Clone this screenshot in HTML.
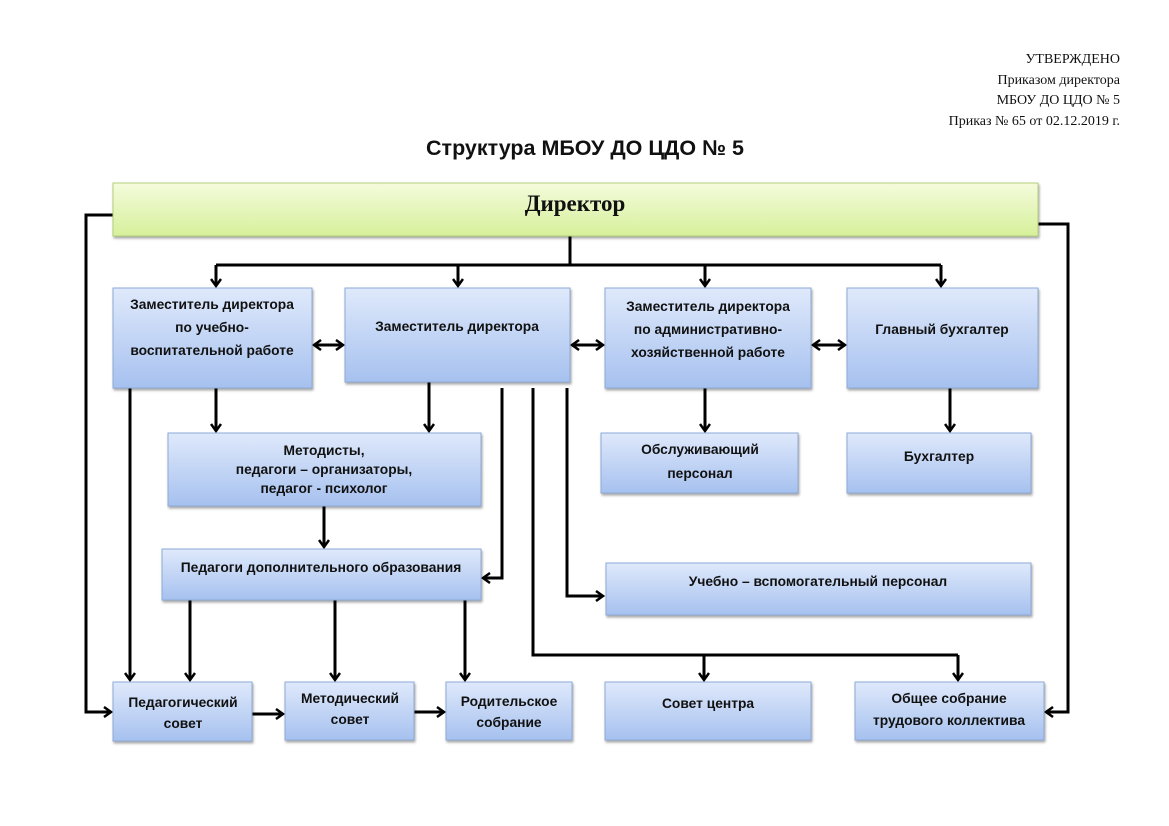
<!DOCTYPE html>
<html><head><meta charset="utf-8"><style>
body{margin:0;background:#fff;width:1169px;height:826px;overflow:hidden;}
svg{display:block}
.t{font-family:"Liberation Sans",sans-serif;font-weight:bold;font-size:13.8px;fill:#111;text-anchor:middle}
.s{font-family:"Liberation Serif",serif;font-size:14px;fill:#111;text-anchor:end}
</style></head><body>
<svg width="1169" height="826" viewBox="0 0 1169 826">
<defs>
<linearGradient id="g" x1="0" y1="0" x2="0" y2="1"><stop offset="0" stop-color="#dfe9fb"/><stop offset="1" stop-color="#a6c1ef"/></linearGradient>
<linearGradient id="gg" x1="0" y1="0" x2="0" y2="1"><stop offset="0" stop-color="#f4fbdc"/><stop offset="1" stop-color="#d6f09a"/></linearGradient>
<marker id="a" markerWidth="12" markerHeight="12" refX="10" refY="6" orient="auto" markerUnits="userSpaceOnUse"><polyline points="3,1 10,6 3,11" fill="none" stroke="#000" stroke-width="2.5"/></marker>
<marker id="b" markerWidth="12" markerHeight="12" refX="2" refY="6" orient="auto" markerUnits="userSpaceOnUse"><polyline points="9,1 2,6 9,11" fill="none" stroke="#000" stroke-width="2.5"/></marker>
<filter id="sh"><feDropShadow dx="1" dy="2" stdDeviation="1.2" flood-opacity="0.35"/></filter>
</defs>
<text class="s" x="1120" y="63">УТВЕРЖДЕНО</text>
<text class="s" x="1120" y="84">Приказом директора</text>
<text class="s" x="1120" y="104">МБОУ ДО ЦДО № 5</text>
<text class="s" x="1120" y="125">Приказ № 65 от 02.12.2019 г.</text>
<text x="585" y="155" font-family="Liberation Sans,sans-serif" font-weight="bold" font-size="21.5" text-anchor="middle" fill="#111">Структура МБОУ ДО ЦДО № 5</text>

<g fill="none" stroke="#000" stroke-width="3">
<polyline points="113,215 86,215 86,712 111,712" marker-end="url(#a)"/>
<polyline points="1038,224 1068,224 1068,712 1046,712" marker-end="url(#a)"/>
<line x1="570" y1="236" x2="570" y2="265"/>
<line x1="216" y1="265" x2="941" y2="265"/>
<line x1="216" y1="265" x2="216" y2="286" marker-end="url(#a)"/>
<line x1="458" y1="265" x2="458" y2="286" marker-end="url(#a)"/>
<line x1="705" y1="265" x2="705" y2="286" marker-end="url(#a)"/>
<line x1="941" y1="265" x2="941" y2="286" marker-end="url(#a)"/>
<line x1="314" y1="345" x2="343" y2="345" marker-start="url(#b)" marker-end="url(#a)"/>
<line x1="572" y1="345" x2="603" y2="345" marker-start="url(#b)" marker-end="url(#a)"/>
<line x1="813" y1="345" x2="845" y2="345" marker-start="url(#b)" marker-end="url(#a)"/>
<line x1="216" y1="388" x2="216" y2="431" marker-end="url(#a)"/>
<line x1="429" y1="382" x2="429" y2="431" marker-end="url(#a)"/>
<line x1="705" y1="388" x2="705" y2="431" marker-end="url(#a)"/>
<line x1="950" y1="388" x2="950" y2="431" marker-end="url(#a)"/>
<line x1="324" y1="506" x2="324" y2="547" marker-end="url(#a)"/>
<polyline points="502,388 502,578 483,578" marker-end="url(#a)"/>
<polyline points="567,388 567,596 603,596" marker-end="url(#a)"/>
<polyline points="533,388 533,655 958,655"/>
<line x1="704" y1="655" x2="704" y2="680" marker-end="url(#a)"/>
<line x1="958" y1="655" x2="958" y2="680" marker-end="url(#a)"/>
<line x1="130" y1="388" x2="130" y2="680" marker-end="url(#a)"/>
<line x1="190" y1="600" x2="190" y2="680" marker-end="url(#a)"/>
<line x1="335" y1="600" x2="335" y2="680" marker-end="url(#a)"/>
<line x1="465" y1="600" x2="465" y2="680" marker-end="url(#a)"/>
<line x1="252" y1="714" x2="283" y2="714" marker-end="url(#a)"/>
<line x1="414" y1="712" x2="444" y2="712" marker-end="url(#a)"/>
</g>

<rect x="113" y="183" width="925" height="53" fill="url(#gg)" stroke="#b5cf7c" filter="url(#sh)"/>
<text x="575" y="211" font-family="Liberation Serif,serif" font-weight="bold" font-size="23" text-anchor="middle" fill="#111">Директор</text>

<g fill="url(#g)" stroke="#8eaad8" stroke-width="1" filter="url(#sh)">
<rect x="113" y="288" width="199" height="100"/>
<rect x="345" y="288" width="225" height="94"/>
<rect x="605" y="288" width="206" height="100"/>
<rect x="847" y="288" width="191" height="100"/>
<rect x="168" y="433" width="313" height="73"/>
<rect x="601" y="433" width="197" height="60"/>
<rect x="847" y="433" width="184" height="60"/>
<rect x="162" y="549" width="319" height="51"/>
<rect x="606" y="563" width="425" height="52"/>
<rect x="113" y="682" width="139" height="59"/>
<rect x="285" y="682" width="129" height="58"/>
<rect x="446" y="682" width="126" height="58"/>
<rect x="605" y="682" width="206" height="58"/>
<rect x="855" y="682" width="189" height="58"/>
</g>

<text class="t" x="212" y="309">Заместитель директора</text>
<text class="t" x="212" y="332">по учебно-</text>
<text class="t" x="212" y="355">воспитательной работе</text>
<text class="t" x="457" y="331">Заместитель директора</text>
<text class="t" x="708" y="311">Заместитель директора</text>
<text class="t" x="708" y="334">по административно-</text>
<text class="t" x="708" y="357">хозяйственной работе</text>
<text class="t" x="942" y="334">Главный бухгалтер</text>
<text class="t" x="324" y="455">Методисты,</text>
<text class="t" x="324" y="474">педагоги – организаторы,</text>
<text class="t" x="324" y="493">педагог - психолог</text>
<text class="t" x="700" y="454">Обслуживающий</text>
<text class="t" x="700" y="478">персонал</text>
<text class="t" x="939" y="461">Бухгалтер</text>
<text class="t" x="321" y="572">Педагоги дополнительного образования</text>
<text class="t" x="818" y="586">Учебно – вспомогательный персонал</text>
<text class="t" x="183" y="707">Педагогический</text>
<text class="t" x="183" y="728">совет</text>
<text class="t" x="350" y="703">Методический</text>
<text class="t" x="350" y="724">совет</text>
<text class="t" x="509" y="706">Родительское</text>
<text class="t" x="509" y="727">собрание</text>
<text class="t" x="708" y="708">Совет центра</text>
<text class="t" x="949" y="703">Общее собрание</text>
<text class="t" x="949" y="725">трудового коллектива</text>
</svg>
</body></html>
